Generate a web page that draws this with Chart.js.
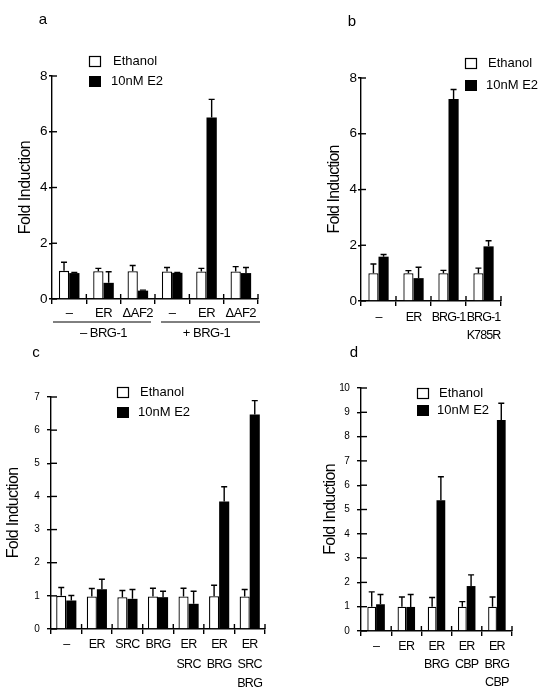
<!DOCTYPE html>
<html>
<head>
<meta charset="utf-8">
<script src="https://cdn.jsdelivr.net/npm/chart.js@4.4.1/dist/chart.umd.min.js"></script>
<style>
  html, body { margin: 0; padding: 0; background: #fff; }
  #wrap { position: relative; width: 542px; height: 698px; overflow: hidden; }
  canvas { position: absolute; }
</style>
</head>
<body>
<div id="wrap">
  <canvas id="pa" width="271" height="340" style="left:0;top:0"></canvas>
  <canvas id="pb" width="271" height="340" style="left:271px;top:0"></canvas>
  <canvas id="pc" width="271" height="358" style="left:0;top:340px"></canvas>
  <canvas id="pd" width="271" height="358" style="left:271px;top:340px"></canvas>
</div>
<script>
// panel a
const catsA = ["\u2013", "ER", "\u0394AF2", "\u2013", "ER", "\u0394AF2"];
const groupsA = ["\u2013 BRG-1", "+ BRG-1"];
const ethA = [1.01, 1.0, 1.0, 0.99, 0.99, 0.99];
const ethErrA = [0.31, 0.1, 0.2, 0.14, 0.11, 0.17];
const e2A = [0.93, 0.58, 0.3, 0.94, 6.51, 0.93];
const e2ErrA = [0.02, 0.4, 0.02, 0.01, 0.65, 0.2];
const ticksA = [0, 2, 4, 6, 8];

// panel b
const catsB = ["\u2013", "ER", "BRG-1", ["BRG-1", "K785R"]];
const ethB = [1.0, 1.0, 1.0, 1.0];
const ethErrB = [0.33, 0.09, 0.1, 0.18];
const e2B = [1.59, 0.82, 7.25, 1.96];
const e2ErrB = [0.08, 0.39, 0.34, 0.2];
const ticksB = [0, 2, 4, 6, 8];

// panel c
const catsC = ["\u2013", "ER", "SRC", "BRG", ["ER", "SRC"], ["ER", "BRG"], ["ER", "SRC", "BRG"]];
const ethC = [1.0, 0.98, 0.96, 0.98, 0.98, 0.99, 0.98];
const ethErrC = [0.25, 0.24, 0.2, 0.25, 0.25, 0.33, 0.21];
const e2C = [0.86, 1.2, 0.91, 0.96, 0.76, 3.85, 6.47];
const e2ErrC = [0.15, 0.3, 0.28, 0.18, 0.38, 0.44, 0.42];
const ticksC = [0, 1, 2, 3, 4, 5, 6, 7];

// panel d
const catsD = ["\u2013", "ER", ["ER", "BRG"], ["ER", "CBP"], ["ER", "BRG", "CBP"]];
const ethD = [1.0, 1.0, 1.0, 1.0, 1.0];
const ethErrD = [0.61, 0.4, 0.38, 0.21, 0.4];
const e2D = [1.1, 0.99, 5.38, 1.85, 8.68];
const e2ErrD = [0.4, 0.51, 0.97, 0.46, 0.69];
const ticksD = [0, 1, 2, 3, 4, 5, 6, 7, 8, 9, 10];

const FONT = "'Liberation Sans', Arial, Helvetica, sans-serif";

// error bars, inner tick marks, legend, panel letter, group brackets
const figurePlugin = {
    id: "figure",
    beforeUpdate(chart, args, opts) {
        chart.ctx.letterSpacing = opts.spacing;
    },
    beforeDraw(chart, args, opts) {
        chart.ctx.letterSpacing = opts.spacing;
    },
    afterDatasetsDraw(chart, args, opts) {
        const ctx = chart.ctx;
        const y = chart.scales.y;
        ctx.save();
        ctx.strokeStyle = "#000";
        ctx.lineWidth = 1.4;
        chart.data.datasets.forEach((ds, i) => {
            chart.getDatasetMeta(i).data.forEach((bar, j) => {
                const top = y.getPixelForValue(ds.data[j] + ds.errors[j]);
                ctx.beginPath();
                ctx.moveTo(bar.x, bar.y);
                ctx.lineTo(bar.x, top);
                ctx.moveTo(bar.x - 3, top);
                ctx.lineTo(bar.x + 3, top);
                ctx.stroke();
            });
        });
        ctx.restore();
    },
    afterDraw(chart, args, opts) {
        const ctx = chart.ctx;
        const area = chart.chartArea;
        const y = chart.scales.y;
        ctx.save();
        ctx.letterSpacing = "0px";
        ctx.strokeStyle = "#000";
        ctx.fillStyle = "#000";
        ctx.lineWidth = 1.4;
        // ticks poking into the plot
        y.ticks.forEach(t => {
            const py = y.getPixelForValue(t.value);
            ctx.beginPath();
            ctx.moveTo(area.left, py);
            ctx.lineTo(area.left + opts.inTick, py);
            ctx.stroke();
        });
        const n = chart.data.labels.length;
        const w = (area.right - area.left) / n;
        for (let i = 1; i <= n; i++) {
            const px = area.left + i * w;
            ctx.beginPath();
            ctx.moveTo(px, area.bottom);
            ctx.lineTo(px, area.bottom - 5);
            ctx.stroke();
        }
        // legend
        const lg = opts.legend;
        ctx.lineWidth = 1.2;
        ctx.strokeRect(lg.x + 0.5, lg.y + 0.5, 11, 10);
        ctx.fillRect(lg.x, lg.y + lg.gap, 12, 11);
        ctx.font = "13px " + FONT;
        ctx.textBaseline = "middle";
        ctx.textAlign = "left";
        ctx.fillText("Ethanol", lg.tx, lg.y + 5);
        ctx.fillText("10nM E2", lg.tx - 2, lg.y + lg.gap + 5);
        // panel letter
        ctx.font = "15px " + FONT;
        ctx.textAlign = "center";
        ctx.fillText(opts.letter, opts.letterX, opts.letterY);
        // group brackets
        if (opts.groups) {
            ctx.font = "13px " + FONT;
            ctx.letterSpacing = "-0.5px";
            ctx.lineWidth = 1;
            const per = n / opts.groups.length;
            opts.groups.forEach((g, k) => {
                const l = area.left + k * per * w;
                const r = l + per * w;
                ctx.beginPath();
                ctx.moveTo(l + (k ? 6 : 1), opts.groupY);
                ctx.lineTo(r - (k ? -2 : 4), opts.groupY);
                ctx.stroke();
                ctx.fillText(g, (l + r) / 2, opts.groupY + 11);
            });
        }
        ctx.restore();
    }
};

function makePanel(id, cats, eth, ethErr, e2, e2Err, ticks, box, fig) {
    new Chart(document.getElementById(id), {
        type: "bar",
        data: {
            labels: cats,
            datasets: [
                { label: "Ethanol", data: eth, errors: ethErr, backgroundColor: "#fff",
                  borderColor: "#000", borderWidth: 1.3, borderSkipped: "bottom" },
                { label: "10nM E2", data: e2, errors: e2Err, backgroundColor: "#000",
                  borderColor: "#000", borderWidth: 0 }
            ]
        },
        options: {
            responsive: false,
            animation: false,
            devicePixelRatio: 1,
            categoryPercentage: box.cat,
            barPercentage: 1.0,
            layout: { padding: { top: box.top, right: box.right, left: 0, bottom: 0 } },
            plugins: {
                legend: { display: false },
                tooltip: { enabled: false },
                figure: fig
            },
            scales: {
                x: {
                    offset: true,
                    grid: { display: true, offset: true, drawOnChartArea: false, drawTicks: true,
                            tickLength: 5, color: "#000", lineWidth: 1.4 },
                    border: { display: true, color: "#000", width: 1.4 },
                    ticks: { color: "#000", padding: box.catPad, maxRotation: 0, autoSkip: false,
                             font: { family: FONT, size: box.catSize, lineHeight: box.catLH } },
                    afterFit: s => { s.height = box.xh; }
                },
                y: {
                    min: 0,
                    max: ticks[ticks.length - 1],
                    afterBuildTicks: s => { s.ticks = ticks.map(v => ({ value: v })); },
                    grid: { display: true, drawOnChartArea: false, drawTicks: true,
                            tickLength: box.tickLen, color: "#000", lineWidth: 1.4 },
                    border: { display: true, color: "#000", width: 1.4 },
                    ticks: { color: "#000", padding: box.tickPad,
                             font: { family: FONT, size: box.tickSize } },
                    title: { display: true, text: "Fold Induction", color: "#000",
                             font: { family: FONT, size: 16 }, padding: { top: box.titlePad, bottom: 0 } },
                    afterFit: s => { s.width = box.yw; }
                }
            }
        },
        plugins: [figurePlugin]
    });
}

makePanel("pa", catsA, ethA, ethErrA, e2A, e2ErrA, ticksA,
    { top: 76, right: 13, yw: 52, xh: 41, cat: 0.6, catSize: 13, catLH: 1.2, catPad: 2,
      tickSize: 13.5, tickLen: 3, tickPad: 2, titlePad: 16 },
    { spacing: "-0.5px", inTick: 5, letter: "a", letterX: 43, letterY: 20, groups: groupsA, groupY: 322,
      legend: { x: 89, y: 56, gap: 20, tx: 113 } });

makePanel("pb", catsB, ethB, ethErrB, e2B, e2ErrB, ticksB,
    { top: 78, right: 41, yw: 90, xh: 39, cat: 0.58, catSize: 12.5, catLH: 1.4, catPad: 3,
      tickSize: 13.5, tickLen: 3, tickPad: 2, titlePad: 54 },
    { spacing: "-0.9px", inTick: 5, letter: "b", letterX: 81, letterY: 22,
      legend: { x: 194, y: 58, gap: 22, tx: 217 } });

makePanel("pc", catsC, ethC, ethErrC, e2C, e2ErrC, ticksC,
    { top: 57, right: 6, yw: 51, xh: 69, cat: 0.66, catSize: 12.5, catLH: 1.55, catPad: 1,
      tickSize: 10, tickLen: 4, tickPad: 8, titlePad: 4 },
    { spacing: "-0.7px", inTick: 6, letter: "c", letterX: 36, letterY: 13,
      legend: { x: 117, y: 47, gap: 20, tx: 140 } });

makePanel("pd", catsD, ethD, ethErrD, e2D, e2ErrD, ticksD,
    { top: 48, right: 30, yw: 90, xh: 67, cat: 0.58, catSize: 12.5, catLH: 1.45, catPad: 1,
      tickSize: 10, tickLen: 4, tickPad: 8, titlePad: 50 },
    { spacing: "-0.7px", inTick: 6, letter: "d", letterX: 83, letterY: 13,
      legend: { x: 146, y: 48, gap: 17, tx: 168 } });
</script>
</body>
</html>
